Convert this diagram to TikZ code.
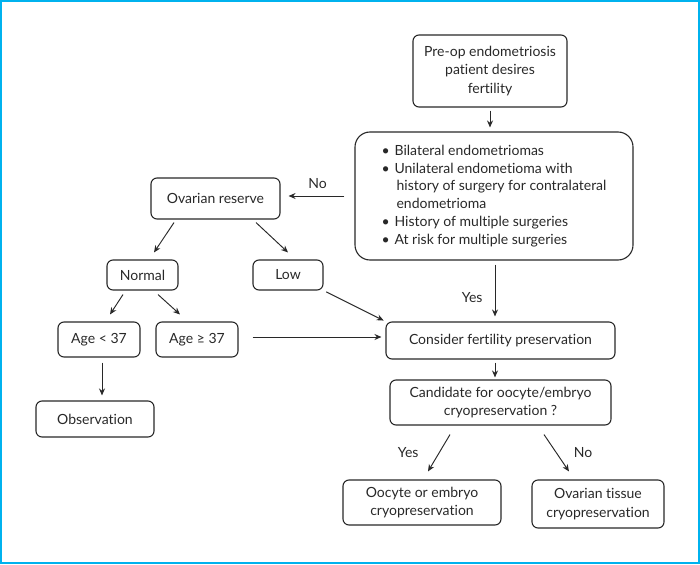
\documentclass[tikz,border=0pt]{standalone}
\usepackage{fontspec}
\setmainfont{Lato}[Ligatures={NoCommon,NoContextual}]
\usetikzlibrary{arrows.meta,calc}
\definecolor{framec}{RGB}{0,178,238}
\definecolor{inkc}{RGB}{40,40,40}
\newcommand{\bul}{\makebox[13pt][l]{\textbullet}}
\begin{document}
\begin{tikzpicture}[x=1pt,y=-1pt,
  box/.style={draw=inkc, line width=1.1pt, rounded corners=6pt, inner sep=0pt, align=center, text=inkc, font=\fontsize{14}{18.5}\selectfont},
  arr/.style={-{Stealth[length=7pt,width=6pt]}, line width=0.95pt, draw=inkc},
  lbl/.style={text=inkc, font=\fontsize{14}{16}\selectfont, inner sep=0pt}]
\useasboundingbox (0,0) rectangle (700,564);
\draw[framec, line width=2.2pt] (1.1,1.1) rectangle (698.9,562.9);

\node[box, minimum width=154, minimum height=72] (top) at (490,71) {Pre-op endometriosis\\patient desires\\fertility};
\node[box, rounded corners=15pt, minimum width=278, minimum height=128, align=left, font=\fontsize{14}{17.8}\selectfont] (bul) at (494,196)
  {\bul Bilateral endometriomas\\\bul Unilateral endometioma with\\\hspace*{15pt}history of surgery for contralateral\\\hspace*{15pt}endometrioma\\\bul History of multiple surgeries\\\bul At risk for multiple surgeries};
\node[box, minimum width=129, minimum height=41] (ov) at (215.5,198.5) {Ovarian reserve};
\node[box, minimum width=71, minimum height=30] (nor) at (142.5,275) {Normal};
\node[box, minimum width=70, minimum height=30] (low) at (288,275) {Low};
\node[box, minimum width=82, minimum height=35] (a1) at (99,339.5) {Age < 37};
\node[box, minimum width=82, minimum height=35] (a2) at (197,339.5) {Age ≥ 37};
\node[box, minimum width=118, minimum height=36] (obs) at (95,419) {Observation};
\node[box, minimum width=229, minimum height=37] (con) at (500.5,340.5) {Consider fertility preservation};
\node[box, minimum width=221, minimum height=45] (cand) at (500.5,402.5) {Candidate for oocyte/embryo\\cryopreservation ?};
\node[box, minimum width=158, minimum height=45] (ooc) at (422,502.5) {Oocyte or embryo\\cryopreservation};
\node[box, minimum width=132, minimum height=48] (ovt) at (598,504) {Ovarian tissue\\cryopreservation};

\draw[arr, shorten <=3pt, shorten >=4pt] (top.south) -- (top.south |- bul.north);
\draw[arr, shorten <=10pt, shorten >=8pt] (bul.west) -- (bul.west -| ov.east) node[lbl, midway, above=7pt] {No};
\draw[arr] ([xshift=-41.5pt,yshift=-3pt]ov.south) -- ([xshift=11.5pt,yshift=7pt]nor.north);
\draw[arr] ([xshift=40.5pt,yshift=-3pt]ov.south) -- ([xshift=0pt,yshift=7pt]low.north);
\draw[arr] ([xshift=-19.5pt,yshift=-4pt]nor.south) -- ([xshift=11pt,yshift=7pt]a1.north);
\draw[arr] ([xshift=15.5pt,yshift=-4pt]nor.south) -- ([xshift=-17pt,yshift=7pt]a2.north);
\draw[arr, shorten <=5pt, shorten >=5pt] ([xshift=3pt]a1.south) -- ([xshift=3pt]a1.south |- obs.north);
\draw[arr, shorten <=14pt, shorten >=4pt] ([yshift=2.5pt]a2.east) -- ([yshift=2.5pt]a2.east -| con.west);
\draw[arr, shorten <=3pt, shorten >=2pt] (low.south east) -- (con.north west);
\draw[arr, shorten <=4pt, shorten >=5pt] ([xshift=1pt]bul.south) -- ([xshift=1pt]bul.south |- con.north) node[lbl, pos=0.6, left=12pt] {Yes};
\draw[arr, shorten <=3pt, shorten >=2pt] ([xshift=-5.5pt]con.south) -- ([xshift=-5.5pt]con.south |- cand.north);
\draw[arr] ([xshift=-50.5pt,yshift=-9pt]cand.south) -- ([xshift=6pt,yshift=8pt]ooc.north) node[lbl, midway, left=20pt] {Yes};
\draw[arr] ([xshift=43.5pt,yshift=-9pt]cand.south) -- ([xshift=-29pt,yshift=8pt]ovt.north) node[lbl, midway, right=17pt] {No};
\end{tikzpicture}
\end{document}
